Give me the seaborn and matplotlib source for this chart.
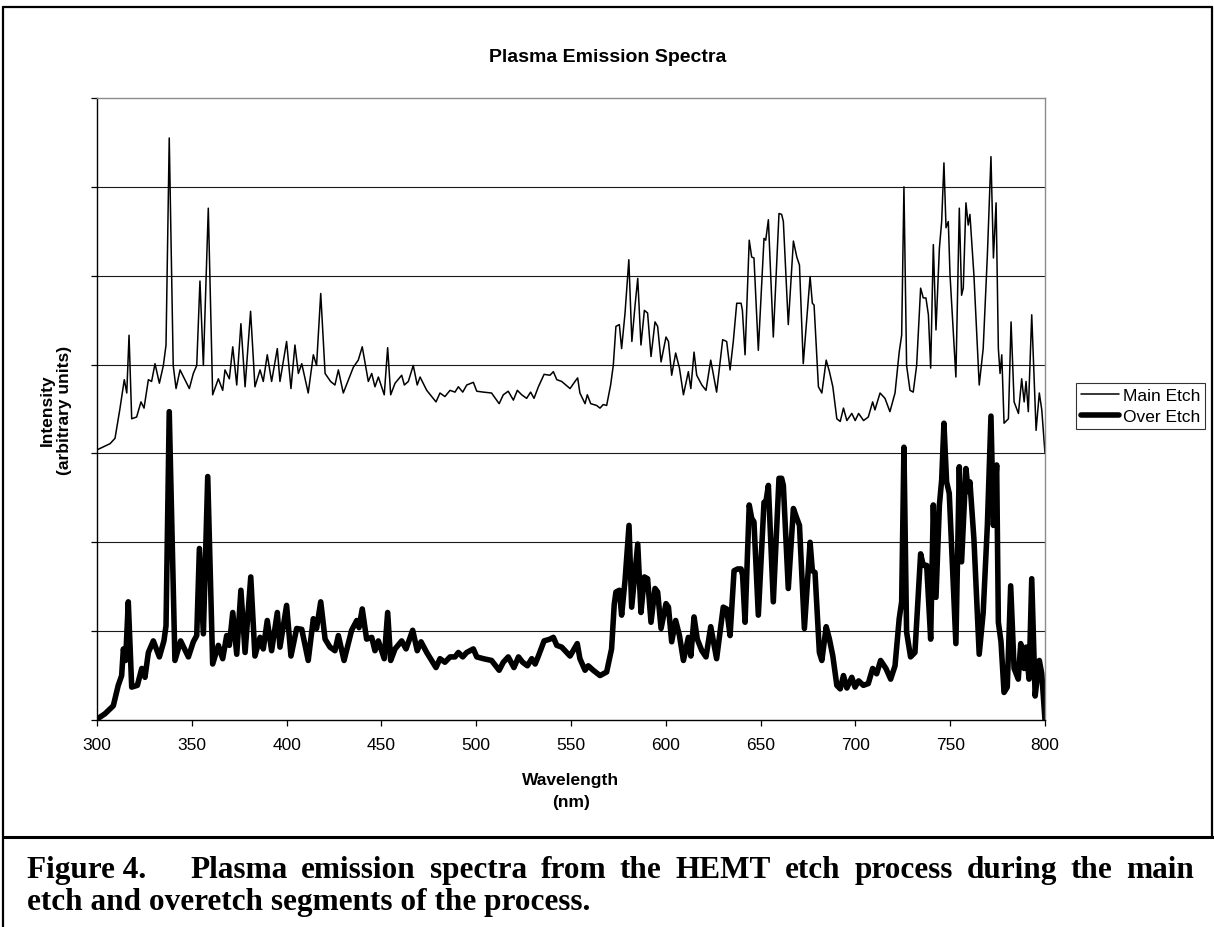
import matplotlib
matplotlib.use("Agg")
import matplotlib.pyplot as plt
import seaborn as sns
import pandas as pd
from matplotlib.lines import Line2D

# ---------------- data ----------------
main_nm = [300.0, 306.9, 309.5, 312.0, 314.4, 315.7, 316.9, 318.3, 320.9, 323.2, 324.8, 327.1, 328.8,
           330.6, 332.9, 335.0, 336.4, 338.1, 340.2, 341.7, 343.8, 348.7, 350.8, 352.6, 354.3, 356.1,
           358.7, 361.0, 364.0, 366.3, 367.5, 369.8, 371.6, 373.7, 375.9, 378.1, 381.0, 383.3, 386.0,
           387.7, 389.8, 392.1, 395.1, 396.5, 400.0, 402.3, 404.4, 406.2, 408.0, 411.4, 414.1, 415.8,
           418.0, 420.3, 423.2, 425.5, 427.3, 429.9, 435.2, 437.8, 439.9, 443.1, 444.9, 446.6, 448.4,
           451.5, 453.3, 454.9, 457.2, 460.7, 462.1, 464.2, 466.8, 468.9, 470.4, 473.9, 478.8, 480.9,
           483.5, 486.2, 488.8, 490.6, 492.9, 495.0, 498.5, 500.3, 503.8, 508.1, 510.8, 512.1, 514.3,
           516.9, 519.6, 521.7, 524.0, 526.6, 528.7, 530.5, 532.8, 535.8, 538.9, 540.7, 542.5, 545.1,
           549.5, 552.1, 553.5, 554.7, 557.4, 558.6, 560.4, 563.5, 565.3, 567.0, 568.8, 570.9, 572.3,
           573.7, 575.5, 576.7, 578.5, 580.5, 582.1, 583.8, 585.2, 586.9, 588.7, 590.4, 592.2, 594.3,
           595.7, 597.5, 600.1, 601.4, 603.1, 605.2, 607.2, 609.3, 611.9, 613.2, 614.9, 616.3, 619.0,
           621.2, 623.7, 626.8, 630.0, 632.1, 633.9, 635.6, 637.4, 639.7, 640.4, 641.8, 644.0, 645.3,
           646.5, 648.8, 651.8, 652.7, 654.1, 656.7, 659.7, 661.1, 662.0, 664.6, 667.3, 669.1, 670.5,
           672.5, 676.1, 677.3, 678.2, 680.5, 682.3, 684.6, 686.3, 688.1, 690.2, 692.0, 693.7, 695.5,
           698.1, 699.9, 701.7, 704.3, 706.8, 709.1, 710.3, 713.0, 715.6, 718.2, 720.9, 723.1, 724.4,
           725.6, 727.0, 728.8, 730.5, 732.3, 734.4, 735.8, 737.2, 738.5, 739.7, 741.1, 742.5, 744.3,
           745.5, 746.7, 747.8, 749.0, 749.9, 753.0, 754.8, 756.0, 756.9, 758.3, 759.5, 760.4, 762.5,
           765.3, 767.4, 769.6, 771.5, 772.8, 774.2, 775.4, 776.3, 777.2, 778.4, 780.7, 782.1, 783.7,
           786.0, 787.7, 789.0, 790.0, 791.2, 793.0, 795.3, 797.0, 798.3, 800.0]
main_val = [3.04, 3.11, 3.17, 3.49, 3.83, 3.68, 4.33, 3.39, 3.41, 3.58, 3.51, 3.83, 3.81,
            4.01, 3.79, 3.99, 4.22, 6.55, 3.99, 3.73, 3.94, 3.73, 3.90, 3.99, 4.94, 3.99,
            5.76, 3.66, 3.84, 3.71, 3.94, 3.84, 4.20, 3.77, 4.46, 3.75, 4.60, 3.75, 3.94,
            3.81, 4.11, 3.81, 4.18, 3.81, 4.26, 3.73, 4.22, 3.90, 4.01, 3.68, 4.11, 3.99,
            4.80, 3.90, 3.81, 3.77, 3.94, 3.68, 3.97, 4.05, 4.20, 3.81, 3.90, 3.75, 3.86,
            3.66, 4.19, 3.66, 3.79, 3.88, 3.77, 3.81, 3.99, 3.77, 3.86, 3.71, 3.58, 3.68,
            3.64, 3.71, 3.69, 3.75, 3.69, 3.77, 3.80, 3.70, 3.69, 3.68, 3.60, 3.56, 3.66,
            3.70, 3.60, 3.71, 3.66, 3.62, 3.69, 3.62, 3.75, 3.89, 3.88, 3.92, 3.83, 3.81,
            3.73, 3.81, 3.85, 3.68, 3.56, 3.66, 3.56, 3.54, 3.51, 3.55, 3.54, 3.77, 3.99,
            4.43, 4.45, 4.18, 4.58, 5.18, 4.26, 4.67, 4.97, 4.22, 4.61, 4.58, 4.09, 4.48,
            4.43, 4.03, 4.31, 4.26, 3.88, 4.13, 3.96, 3.66, 3.92, 3.73, 4.14, 3.88, 3.77,
            3.71, 4.05, 3.69, 4.28, 4.26, 3.94, 4.26, 4.69, 4.69, 4.61, 4.11, 5.40, 5.21,
            5.20, 4.16, 5.42, 5.40, 5.63, 4.31, 5.70, 5.69, 5.61, 4.45, 5.39, 5.21, 5.12,
            4.01, 4.99, 4.69, 4.67, 3.75, 3.68, 4.05, 3.92, 3.75, 3.39, 3.36, 3.51, 3.37,
            3.45, 3.37, 3.45, 3.37, 3.41, 3.58, 3.49, 3.68, 3.62, 3.47, 3.68, 4.14, 4.33,
            6.00, 3.99, 3.71, 3.69, 3.99, 4.86, 4.75, 4.75, 4.56, 3.96, 5.35, 4.39, 5.31,
            5.61, 6.27, 5.54, 5.61, 5.01, 3.86, 5.76, 4.78, 4.86, 5.82, 5.57, 5.69, 5.01,
            3.77, 4.18, 5.23, 6.34, 5.20, 5.82, 4.18, 3.90, 4.11, 3.34, 3.39, 4.48, 3.58,
            3.45, 3.84, 3.58, 3.81, 3.47, 4.56, 3.26, 3.68, 3.49, 3.00]

over_nm = [300.0, 300.7, 304.2, 308.6, 311.2, 313.0, 313.9, 315.1, 316.5, 318.3, 321.3, 323.6, 325.3,
           327.1, 329.7, 332.9, 335.3, 336.4, 338.1, 341.1, 344.1, 348.2, 350.8, 352.6, 354.0, 356.1,
           358.4, 361.0, 364.0, 366.3, 368.4, 369.8, 371.6, 373.7, 375.9, 378.1, 381.1, 383.3, 386.0,
           387.7, 389.8, 392.1, 395.1, 396.5, 400.0, 402.3, 405.3, 408.0, 411.4, 414.1, 415.8, 418.0,
           420.3, 422.9, 425.5, 427.3, 430.3, 434.3, 437.0, 438.2, 439.9, 442.2, 444.9, 446.6, 448.4,
           451.5, 453.3, 454.9, 457.2, 460.7, 463.0, 466.5, 468.9, 470.9, 473.9, 478.8, 480.9, 483.5,
           486.2, 488.8, 490.6, 492.9, 495.0, 498.5, 500.3, 503.8, 508.1, 512.1, 514.3, 516.9, 519.9,
           522.3, 524.5, 527.0, 529.3, 531.1, 532.8, 535.8, 538.9, 540.7, 542.5, 545.1, 549.5, 553.3,
           554.7, 557.4, 559.1, 561.7, 565.3, 568.8, 571.4, 572.8, 573.7, 575.5, 576.7, 578.5, 580.6,
           582.0, 583.8, 585.2, 586.9, 588.7, 590.4, 592.2, 594.3, 595.7, 597.5, 600.1, 601.4, 603.1,
           605.2, 607.2, 609.3, 611.9, 613.2, 614.9, 616.6, 619.0, 621.2, 623.7, 626.8, 630.3, 632.1,
           633.9, 636.0, 637.9, 639.7, 640.5, 641.8, 644.0, 645.3, 646.5, 648.8, 651.8, 652.7, 654.1,
           656.7, 659.7, 661.1, 662.0, 664.6, 667.3, 669.1, 670.5, 673.1, 676.1, 677.3, 678.7, 681.0,
           682.3, 684.6, 686.3, 688.1, 690.2, 692.0, 693.7, 695.5, 698.1, 699.8, 701.7, 704.2, 706.8,
           709.1, 711.2, 713.3, 716.1, 718.6, 720.9, 723.1, 724.4, 725.6, 727.0, 729.1, 731.4, 734.4,
           735.8, 737.6, 739.7, 741.1, 742.5, 744.3, 745.5, 746.7, 748.1, 749.5, 753.0, 754.8, 756.0,
           758.3, 759.5, 760.4, 762.5, 765.3, 767.4, 769.6, 771.5, 772.8, 774.5, 775.4, 776.8, 778.4,
           780.1, 781.9, 783.7, 785.9, 787.2, 789.0, 790.0, 791.6, 793.0, 794.8, 797.0, 798.3, 800.0]
over_val = [0.00, 0.02, 0.07, 0.16, 0.39, 0.50, 0.80, 0.67, 1.33, 0.37, 0.39, 0.58, 0.48,
            0.76, 0.89, 0.71, 0.89, 1.06, 3.47, 0.67, 0.89, 0.71, 0.88, 0.95, 1.93, 0.97,
            2.74, 0.63, 0.84, 0.69, 0.95, 0.84, 1.21, 0.74, 1.46, 0.76, 1.61, 0.72, 0.93,
            0.80, 1.12, 0.78, 1.21, 0.82, 1.29, 0.72, 1.03, 1.02, 0.67, 1.14, 1.03, 1.33,
            0.91, 0.82, 0.78, 0.95, 0.67, 1.01, 1.12, 1.04, 1.25, 0.91, 0.93, 0.78, 0.89,
            0.69, 1.21, 0.67, 0.80, 0.89, 0.80, 1.01, 0.78, 0.88, 0.76, 0.59, 0.69, 0.65,
            0.71, 0.71, 0.76, 0.71, 0.76, 0.80, 0.71, 0.69, 0.67, 0.56, 0.65, 0.71, 0.59,
            0.71, 0.65, 0.61, 0.69, 0.63, 0.72, 0.89, 0.91, 0.93, 0.84, 0.82, 0.72, 0.86,
            0.69, 0.56, 0.61, 0.56, 0.50, 0.54, 0.80, 1.30, 1.44, 1.46, 1.18, 1.57, 2.19,
            1.27, 1.67, 1.98, 1.21, 1.61, 1.59, 1.10, 1.48, 1.44, 1.03, 1.31, 1.27, 0.88,
            1.12, 0.95, 0.67, 0.93, 0.72, 1.16, 0.91, 0.78, 0.71, 1.05, 0.69, 1.27, 1.25,
            0.95, 1.68, 1.70, 1.70, 1.63, 1.10, 2.42, 2.27, 2.23, 1.18, 2.45, 2.44, 2.64,
            1.33, 2.72, 2.72, 2.64, 1.48, 2.38, 2.27, 2.19, 1.03, 2.00, 1.68, 1.66, 0.76,
            0.67, 1.05, 0.91, 0.72, 0.39, 0.35, 0.50, 0.36, 0.48, 0.37, 0.44, 0.39, 0.41,
            0.58, 0.52, 0.67, 0.58, 0.46, 0.61, 1.14, 1.33, 3.07, 0.99, 0.71, 0.76, 1.87,
            1.74, 1.74, 0.91, 2.42, 1.38, 2.42, 2.70, 3.34, 2.68, 2.55, 0.86, 2.85, 1.78,
            2.83, 2.57, 2.68, 2.04, 0.74, 1.21, 2.19, 3.42, 2.19, 2.87, 1.10, 0.88, 0.31,
            0.37, 1.51, 0.58, 0.46, 0.86, 0.58, 0.82, 0.46, 1.59, 0.27, 0.67, 0.52, 0.00]

series_names = ["Main Etch", "Over Etch"]
x_ticks = [300, 350, 400, 450, 500, 550, 600, 650, 700, 750, 800]
y_ticks = [0, 1, 2, 3, 4, 5, 6, 7]

title = "Plasma Emission Spectra"
x_title = ["Wavelength", "(nm)"]
y_title = "Intensity\n(arbitrary units)"
caption_head = "Figure 4."
caption_line1 = "Plasma emission spectra from the HEMT etch process during the main"
caption_line2 = "etch and overetch segments of the process."

# ---------------- figure ----------------
sns.set_theme(style="white")
plt.rcParams['font.family'] = ['Liberation Sans', 'DejaVu Sans']
plt.rcParams['text.color'] = 'black'
plt.rcParams['xtick.color'] = 'black'
plt.rcParams['ytick.color'] = 'black'
plt.rcParams['axes.labelcolor'] = 'black'

W, H = 1214, 928
fig = plt.figure(figsize=(W / 100, H / 100), dpi=100)

def fx(px):
    return px / W

def fy(py):
    return 1 - py / H

ax = fig.add_axes([fx(97), fy(721), fx(1045) - fx(97), fy(99) - fy(721)])

df = pd.concat([
    pd.DataFrame({"nm": main_nm, "val": main_val, "series": series_names[0]}),
    pd.DataFrame({"nm": over_nm, "val": over_val, "series": series_names[1]}),
], ignore_index=True)

sns.lineplot(data=df[df.series == series_names[0]], x="nm", y="val", color="black",
             linewidth=1.1, estimator=None, sort=False, ax=ax, label=series_names[0])
sns.lineplot(data=df[df.series == series_names[1]], x="nm", y="val", color="black",
             linewidth=4.0, estimator=None, sort=False, ax=ax, label=series_names[1],
             solid_joinstyle="round")

ax.set_xlim(300, 800)
ax.set_ylim(0, 7)
ax.set_xticks(x_ticks)
ax.set_xticklabels([str(t) for t in x_ticks], fontsize=12.5, color="black")
ax.set_yticks(y_ticks)
ax.set_yticklabels([])
ax.set_xlabel("")
ax.set_ylabel("")
ax.tick_params(axis="both", direction="out", length=4, width=0.9, color="black",
               bottom=True, left=True)
ax.tick_params(axis="x", pad=8)

ax.yaxis.grid(True, color="#1a1a1a", linewidth=0.8)
ax.xaxis.grid(False)
ax.set_axisbelow(True)
gl = ax.yaxis.get_gridlines()
gl[0].set_visible(False)
gl[-1].set_visible(False)

for s in ["top", "right"]:
    ax.spines[s].set_color("#8c8c8c")
    ax.spines[s].set_linewidth(1.0)
for s in ["left", "bottom"]:
    ax.spines[s].set_color("black")
    ax.spines[s].set_linewidth(1.0)

# legend
handles = [Line2D([], [], color="black", linewidth=1.1),
           Line2D([], [], color="black", linewidth=4.0, solid_capstyle="round")]
leg = ax.legend(handles, series_names, loc="upper left",
                bbox_to_anchor=(fx(1076), fy(384)), bbox_transform=fig.transFigure,
                borderaxespad=0, frameon=True, fancybox=False, fontsize=12.5,
                handlelength=2.2, handletextpad=0.2, borderpad=0.3, labelspacing=0.3)
leg.get_frame().set_edgecolor("black")
leg.get_frame().set_linewidth(0.8)
for t in leg.get_texts():
    t.set_color("black")

# titles
fig.text(fx(608), fy(57), title, ha="center", va="center", fontsize=14, fontweight="bold",
         color="black")
fig.text(fx(571), fy(780), x_title[0], ha="center", va="center", fontsize=12.5,
         fontweight="bold", color="black")
fig.text(fx(571), fy(803), x_title[1], ha="center", va="center", fontsize=12.5,
         fontweight="bold", color="black")
fig.text(fx(56), fy(410), y_title, ha="center", va="center", rotation=90, fontsize=12.5,
         fontweight="bold", multialignment="center", linespacing=1.2, color="black")

# frame of the chart / caption table
lw = 1.6
fig.add_artist(Line2D([fx(3), fx(1212)], [fy(8), fy(8)], color="black", lw=lw))
fig.add_artist(Line2D([fx(3), fx(3)], [fy(8), fy(928)], color="black", lw=lw))
fig.add_artist(Line2D([fx(1212), fx(1212)], [fy(8), fy(838)], color="black", lw=lw))
fig.add_artist(Line2D([fx(3), fx(1214)], [fy(838), fy(838)], color="black", lw=2.2))

# caption (justified first line)
cap_font = dict(family=["Liberation Serif", "DejaVu Serif"], fontweight="bold", fontsize=22.5,
                color="black")
fig.text(fx(27), fy(878), caption_head, ha="left", va="baseline", **cap_font)
words = caption_line1.split(" ")
txts = [fig.text(0, fy(878), w, ha="left", va="baseline", **cap_font) for w in words]
renderer = fig.canvas.get_renderer()
widths = [t.get_window_extent(renderer=renderer).width for t in txts]
x0, x1 = 190, 1194
gap = (x1 - x0 - sum(widths)) / (len(words) - 1)
xpos = x0
for t, wdt in zip(txts, widths):
    t.set_x(fx(xpos))
    xpos += wdt + gap
fig.text(fx(27), fy(910), caption_line2, ha="left", va="baseline", **cap_font)

fig.savefig("out.png", dpi=100)
